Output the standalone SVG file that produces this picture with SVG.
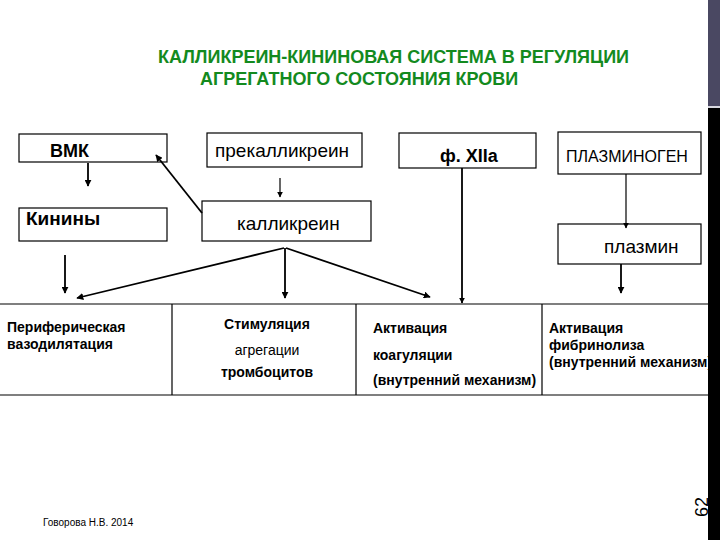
<svg xmlns="http://www.w3.org/2000/svg" width="720" height="540" viewBox="0 0 720 540">
<style>
.box{fill:#fff;stroke:#000;stroke-width:1.2}
.t{font-family:"Liberation Sans",Arial,sans-serif;fill:#000}
.b{font-weight:bold}
.c{stroke:#000;stroke-width:1.8;fill:none}
.thin{stroke:#000;stroke-width:1.2;fill:none}
.title{font-family:"Liberation Sans",Arial,sans-serif;font-weight:bold;font-size:18px;fill:#138a1e}
</style>
<defs>
<marker id="ah" viewBox="0 0 10 10" refX="9" refY="5" markerWidth="7" markerHeight="7" markerUnits="userSpaceOnUse" orient="auto">
<path d="M0,0 L10,5 L0,10 z" fill="#000"/>
</marker>
<marker id="ahs" viewBox="0 0 10 10" refX="9" refY="5" markerWidth="6" markerHeight="6" markerUnits="userSpaceOnUse" orient="auto">
<path d="M0,0 L10,5 L0,10 z" fill="#000"/>
</marker>
</defs>
<rect width="720" height="540" fill="#fff"/>

<g id="title">
<text class="title" x="158" y="63">КАЛЛИКРЕИН-КИНИНОВАЯ СИСТЕМА В РЕГУЛЯЦИИ</text>
<text class="title" x="200" y="85">АГРЕГАТНОГО СОСТОЯНИЯ КРОВИ</text>
</g>

<g id="vmk"><rect class="box" x="19" y="134" width="148" height="28"/><text class="t b" x="50" y="157" font-size="18">ВМК</text></g>
<g id="kininy"><rect class="box" x="19" y="208" width="148" height="33"/><text class="t b" x="26" y="225" font-size="19">Кинины</text></g>
<g id="prekallikrein"><rect class="box" x="207" y="133" width="155" height="34"/><text class="t" x="215" y="157" font-size="19">прекалликреин</text></g>
<g id="kallikrein"><rect class="box" x="202" y="201" width="169" height="40"/><text class="t" x="237" y="230" font-size="19">калликреин</text></g>
<g id="f12a"><rect class="box" x="399" y="133" width="137" height="35"/><text class="t b" x="440" y="162" font-size="18">ф.  XIIa</text></g>
<g id="plasminogen"><rect class="box" x="558" y="132" width="143" height="42"/><text class="t" x="566" y="162" font-size="16">ПЛАЗМИНОГЕН</text></g>
<g id="plasmin"><rect class="box" x="558" y="224" width="143" height="40"/><text class="t" x="604" y="253" font-size="19">плазмин</text></g>

<g id="table">
<path class="thin" d="M0,304 H708 M0,395 H708 M172,304 V395 M356,304 V395 M542,304 V395"/>
</g>
<g id="cell1"><text class="t b" font-size="14"><tspan x="7" y="332">Периферическая</tspan><tspan x="7" y="349">вазодилятация</tspan></text></g>
<g id="cell2"><text class="t b" font-size="14" text-anchor="middle"><tspan x="267" y="329">Стимуляция</tspan><tspan x="267" y="355" font-weight="normal">агрегации</tspan><tspan x="267" y="377">тромбоцитов</tspan></text></g>
<g id="cell3"><text class="t b" font-size="14"><tspan x="373" y="333">Активация</tspan><tspan x="373" y="360">коагуляции</tspan><tspan x="373" y="385">(внутренний механизм)</tspan></text></g>
<g id="cell4"><text class="t b" font-size="14"><tspan x="549" y="333">Активация</tspan><tspan x="549" y="350">фибринолиза</tspan><tspan x="549" y="367">(внутренний механизм)</tspan></text></g>

<g id="connectors">
<line class="c" x1="88" y1="163" x2="88" y2="186" marker-end="url(#ah)"/>
<line class="thin" x1="280" y1="178" x2="280" y2="197" marker-end="url(#ahs)"/>
<line class="c" x1="202" y1="213" x2="156" y2="155" marker-end="url(#ah)"/>
<line class="c" x1="462" y1="168" x2="462" y2="303" marker-end="url(#ahs)"/>
<line class="thin" x1="626" y1="174" x2="626" y2="228" marker-end="url(#ahs)"/>
<line class="c" x1="621" y1="264" x2="621" y2="293" marker-end="url(#ah)"/>
<line class="c" x1="65" y1="255" x2="65" y2="293" marker-end="url(#ah)"/>
<line class="c" x1="284" y1="248" x2="77" y2="298" marker-end="url(#ah)"/>
<line class="c" x1="285" y1="248" x2="285" y2="298" marker-end="url(#ah)"/>
<line class="c" x1="286" y1="248" x2="430" y2="297" marker-end="url(#ah)"/>
</g>

<rect x="708" y="0" width="12" height="106" fill="#4a4862"/>
<rect x="708" y="106" width="12" height="2" fill="#d8d8e0"/>
<rect x="708" y="108" width="12" height="432" fill="#000"/>

<text class="t" x="43" y="526" font-size="10">Говорова Н.В. 2014</text>
<text class="t" x="0" y="0" font-size="18" fill="#333" text-anchor="middle" transform="translate(708,507) rotate(-90)">62</text>
</svg>
